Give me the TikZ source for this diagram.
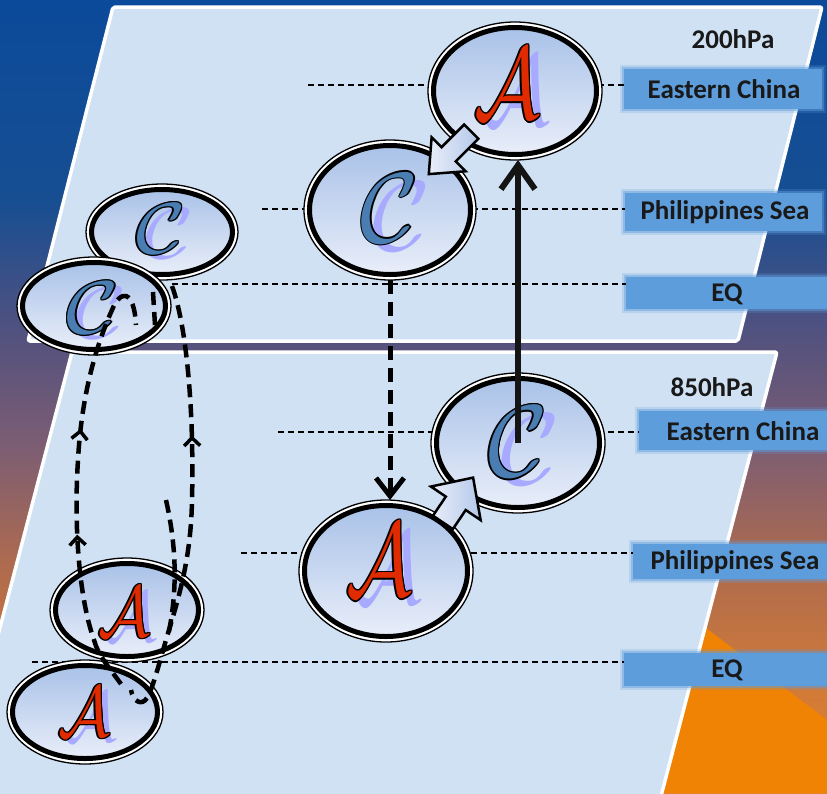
\documentclass[tikz,border=0pt]{standalone}
\usepackage{graphicx}
\usepackage{fontspec}
\newfontfamily\labfont{Carlito}
\usetikzlibrary{calc,arrows.meta,shapes.geometric,decorations.markings}
\definecolor{bgA}{HTML}{0B4A9A}
\definecolor{bgAA}{HTML}{174E92}
\definecolor{bgB}{HTML}{55527E}
\definecolor{bgC}{HTML}{7E5E72}
\definecolor{bgD}{HTML}{AC6A50}
\definecolor{bgE}{HTML}{D07A38}
\definecolor{bgF}{HTML}{E3822E}
\definecolor{orangec}{HTML}{F08204}
\definecolor{planec}{HTML}{D0E1F3}
\definecolor{boxc}{HTML}{5E9DDC}
\definecolor{ellTop}{HTML}{A9C2E8}
\definecolor{ellBot}{HTML}{E9EEF9}
\definecolor{redA}{HTML}{E02A00}
\definecolor{blueC}{HTML}{4A7DB2}
\definecolor{shadowc}{HTML}{A8AAFF}
\definecolor{arrTop}{HTML}{B4C8EA}
\pgfdeclareverticalshading{bgshade}{100bp}{color(0bp)=(bgF); color(25bp)=(bgF); color(32.1bp)=(bgE); color(39.7bp)=(bgD); color(46.6bp)=(bgC); color(53.5bp)=(bgB); color(62.4bp)=(bgAA); color(75bp)=(bgA); color(100bp)=(bgA)}
\newcommand\cycnode[4]{%
  \node[ellout, minimum width=2*#3, minimum height=2*#4] (#1o) at (#2) {};
  \node[ellin, minimum width=2*#3-11, minimum height=2*#4-11] (#1) at (#2) {};}
\newcommand\cycglyph[7]{%
  \node[inner sep=0pt, text=shadowc] (#1s) at ($(#2)+(#7)$) {\scalebox{#3}[#4]{\Huge$\mathcal{#5}$}};
  \foreach \dx/\dy in {1.3/0,-1.3/0,0/1.3,0/-1.3,0.9/0.9,-0.9/0.9,0.9/-0.9,-0.9/-0.9}{%
    \node[inner sep=0pt, text=black] at ($(#2)+(\dx,\dy)$) {\scalebox{#3}[#4]{\Huge$\mathcal{#5}$}};}
  \node[inner sep=0pt, text=#6] (#1) at (#2) {\scalebox{#3}[#4]{\Huge$\mathcal{#5}$}};}
\tikzset{
  plane/.style={fill=planec, draw=white, line width=3.5pt, rounded corners=2pt, line join=round},
  ellout/.style={ellipse, draw=black, line width=1.3pt, fill=white, inner sep=0pt, outer sep=0pt},
  ellin/.style={ellipse, draw=black, line width=5pt, top color=ellTop, bottom color=ellBot, inner sep=0pt, outer sep=0pt},
  labtext/.style={font=\labfont\bfseries\fontsize{27}{27}\selectfont, text=black!90, inner sep=0pt},
  labbox/.style={fill=boxc, inner sep=0pt, outer sep=0pt, anchor=north west,
    preaction={draw=boxc, draw opacity=0.22, line width=8pt},
    preaction={draw=boxc, draw opacity=0.45, line width=4pt}},
  guide/.style={line width=1.4pt, dash pattern=on 6pt off 4pt},
  solidarr/.style={line width=6pt, draw=black!92, -{Straight Barb[length=24pt,width=34pt]}},
  dasharr/.style={line width=5pt, draw=black, dash pattern=on 14pt off 8pt, -{Straight Barb[length=18pt,width=28pt]}},
  loopdash/.style={line width=4.5pt, draw=black, dash pattern=on 13pt off 7pt},
  blockarr/.style={draw=black, line width=2.5pt, line join=miter, left color=ellBot, right color=arrTop},
  loopmark/.tip={Straight Barb[length=8pt,width=16pt,line width=3.5pt]}
}
\begin{document}
\begin{tikzpicture}[x=1pt,y=-1pt]
\useasboundingbox (0,0) rectangle (827,793);
\clip (0,0) rectangle (827,793);
\shade[shading=bgshade] (0,0) rectangle (827,793);
\fill[orangec] (706,628) -- (827,720) -- (827,793) -- (640,793) -- cycle;
% planes
\draw[plane] (113,7) -- (822,7) -- (738,341) -- (28,341) -- cycle;
\draw[plane] (72,352) -- (777,352) -- (660,800) -- (-45,800) -- cycle;
% label boxes
\node[labbox, minimum width=198pt, minimum height=40pt] (bxTE) at (624,69) {};
\node[labbox, minimum width=197pt, minimum height=38pt] (bxTP) at (625,193) {};
\node[labbox, minimum width=205pt, minimum height=32pt] (bxTQ) at (626,277) {};
\node[labbox, minimum width=195pt, minimum height=39pt] (bxBE) at (639,411) {};
\node[labbox, minimum width=200pt, minimum height=35pt] (bxBP) at (633,544) {};
\node[labbox, minimum width=210pt, minimum height=33pt] (bxBQ) at (624,653) {};
% texts
\node[labtext] (t200) at (733,39) {200hPa};
\node[labtext] (t850) at (712,387) {850hPa};
\node[labtext] (lTE) at (724,89) {Eastern China};
\node[labtext] (lTP) at (725,212) {Philippines Sea};
\node[labtext] (lTQ) at (727,294) {EQ};
\node[labtext] (lBE) at (743,431) {Eastern China};
\node[labtext] (lBP) at (735,562) {Philippines Sea};
\node[labtext] (lBQ) at (727,670) {EQ};
% guide lines
\coordinate (gTE) at (308,85);
\coordinate (gTP) at (262,209);
\coordinate (gTQ) at (172,284);
\coordinate (gBE) at (278,432);
\coordinate (gBP) at (241,553);
\coordinate (gBQ) at (32,662);
\draw[guide] (gTE) -- (gTE -| bxTE.west);
\draw[guide] (gTP) -- (gTP -| bxTP.west);
\draw[guide] (gTQ) -- (gTQ -| bxTQ.west);
\draw[guide] (gBE) -- (gBE -| bxBE.west);
\draw[guide] (gBP) -- (gBP -| bxBP.west);
\draw[guide] (gBQ) -- (gBQ -| bxBQ.west);
% ellipses
\cycnode{tCs}{162,232}{76}{48}
\cycnode{tCl}{94,306}{77}{49}
\cycnode{tC}{390,210}{86}{70}
\cycnode{tA}{515,91}{87}{69}
\cycnode{bC}{518,443}{87}{70}
\cycnode{bA}{386,571}{87}{71}
\cycnode{bAu}{127,610}{77}{52}
\cycnode{bAl}{85,712}{78}{52}
% letters
\cycglyph{gtA}{507,84}{3.3}{4.1}{A}{redA}{10,7}
\cycglyph{gtC}{390,208}{4.0}{4.0}{C}{blueC}{12,8}
\cycglyph{gtCs}{161,229}{3.4}{2.9}{C}{blueC}{8,5}
\cycglyph{gtCl}{93,308}{3.6}{3.0}{C}{blueC}{8,5}
\cycglyph{gbC}{518,442}{4.1}{4.1}{C}{blueC}{12,8}
\cycglyph{gbA}{379,560}{3.3}{4.2}{A}{redA}{10,8}
\cycglyph{gbAu}{124,612}{2.6}{2.9}{A}{redA}{7,5}
\cycglyph{gbAl}{84,712}{2.6}{2.9}{A}{redA}{7,5}
% block arrows
\begin{scope}[shift={($(tA)!0.52!(tC)$)}, rotate=225]
  \draw[blockarr] (-30,-10) -- (2,-10) -- (2,-24) -- (30,0) -- (2,24) -- (2,10) -- (-30,10) -- cycle;
\end{scope}
\begin{scope}[shift={($(bA)!0.5!(bC)+(6,-7)$)}, rotate=56]
  \draw[blockarr] (-27,-12) -- (-4,-12) -- (-4,-30) -- (27,0) -- (-4,30) -- (-4,12) -- (-27,12) -- cycle;
\end{scope}
% main arrows
\draw[solidarr] (bC.center) -- (bC.center |- tAo.south);
\draw[dasharr] (tCo.south) -- (tCo.south |- bAo.north);
% left circulation loops
\coordinate (lpA) at (121,684);
\coordinate (lpB) at (136,325);
\draw[loopdash, postaction={decorate}, decoration={markings,
    mark=at position 0.36 with {\arrow{loopmark}},
    mark=at position 0.6 with {\arrow{loopmark}}}]
  (lpA) .. controls (108,666) and (98,655) .. (94,640) .. controls (78,595) and (74,520) .. (78,460)
  .. controls (81,405) and (92,355) .. (112,310) .. controls (120,290) and (134,288) .. (lpB);
\coordinate (lpC) at (172,286);
\coordinate (lpD) at (131,690);
\draw[loopdash, postaction={decorate}, decoration={markings,
    mark=at position 0.34 with {\arrowreversed{loopmark}}}]
  (lpC) .. controls (188,330) and (194,420) .. (192,500) .. controls (191,560) and (178,600) .. (166,640)
  .. controls (158,668) and (152,690) .. (147,698) .. controls (142,706) and (133,702) .. (lpD);
\coordinate (lpE) at (166,500);
\coordinate (lpF) at (168,636);
\draw[loopdash] (lpE) .. controls (175,540) and (179,585) .. (lpF);
\coordinate (lpG) at (153,292);
\coordinate (lpH) at (155,325);
\draw[loopdash] (lpG) -- (lpH);
\end{tikzpicture}
\end{document}
